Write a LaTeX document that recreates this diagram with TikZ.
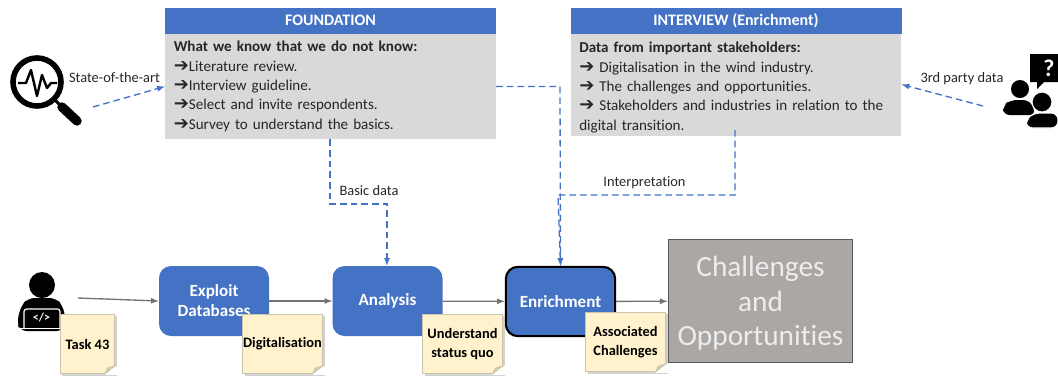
\documentclass[tikz,border=0pt]{standalone}
\usepackage{fontspec}
\setmainfont[Ligatures=NoCommon]{Carlito}
\newfontfamily\iconfont{DejaVu Sans}
\usetikzlibrary{positioning, shapes, arrows, shadows}
\definecolor{mainblue}{HTML}{4472C4}
\definecolor{panelgrey}{HTML}{D9D9D9}
\definecolor{notefill}{HTML}{FFF2CC}
\definecolor{noteline}{HTML}{C9C4AE}
\definecolor{notefold}{HTML}{D6CDAE}
\definecolor{resultgrey}{HTML}{ABA7A5}
\newcommand{\itemarrow}[1]{\makebox[#1][l]{\iconfont\bfseries\fontsize{13.5}{10}\selectfont ➔}}
\tikzset{
  header/.style={fill=mainblue, text=white, inner sep=0pt, minimum height=19.5pt, font=\fontsize{12}{13}\selectfont\bfseries},
  panel/.style={fill=panelgrey, text=black!85, inner xsep=6.5pt, inner ysep=0pt, align=left, text width=235pt, font=\fontsize{11.3}{14.5}\selectfont},
  process/.style={rounded corners=9pt, fill=mainblue, text=white, minimum width=82.5pt, minimum height=52.5pt, inner sep=0pt, align=center, font=\fontsize{12.8}{15}\selectfont\bfseries},
  sticky/.style={fill=notefill, draw=noteline, line width=.8pt, minimum width=60pt, minimum height=44.5pt, inner sep=0pt, align=center, drop shadow={shadow xshift=1.5pt, shadow yshift=-1.5pt, fill=black!35}, font=\fontsize{10.8}{14}\selectfont\bfseries},
  label/.style={inner sep=0pt, text=black!85, font=\fontsize{10.8}{12}\selectfont},
  dataflow/.style={draw=mainblue, line width=1pt, dash pattern=on 5pt off 3pt, -latex},
  flow/.style={draw=black!55, line width=1pt, -latex}
}
\begin{document}
\begin{tikzpicture}[x=.75pt,y=-.75pt]
  \useasboundingbox (0,0) rectangle (1058,380);
  % panels
  \node[header, minimum width=248.25pt] (foundhead) at (330.5,20.5) {FOUNDATION};
  \node[panel, minimum height=79pt] (foundbody) at (330.5,86.5) {\textbf{What we know that we do not know:}\\
    \itemarrow{11.3pt}Literature review.\\
    \itemarrow{11.3pt}Interview guideline.\\
    \itemarrow{11.3pt}Select and invite respondents.\\
    \itemarrow{11.3pt}Survey to understand the basics.};
  \node[header, minimum width=248.25pt] (inthead) at (736,20.5) {INTERVIEW (Enrichment)};
  \node[panel, minimum height=76.5pt] (intbody) at (736,84.5) {\rule{0pt}{12.5pt}\textbf{Data from important stakeholders:}\\
    \itemarrow{15pt}Digitalisation in the wind industry.\\
    \itemarrow{15pt}The challenges and opportunities.\\
    \itemarrow{15pt}Stakeholders and industries in relation to the\\
    digital transition.};

  % process row
  \node[process] (exploit) at (214,301) {Exploit\\Databases};
  \node[process] (analysis) at (387.5,301) {Analysis};
  \node[process, draw=black, line width=1.6pt, minimum width=82pt, minimum height=52pt] (enrichment) at (560.5,301.5) {Enrichment};
  \node[fill=resultgrey, draw=black!65, line width=.8pt, minimum width=138.5pt, minimum height=92.5pt, inner sep=0pt, align=center, text=white!93!black, font=\fontsize{22}{26}\selectfont] (challenges) at (760.5,301) {\rule{0pt}{19pt}Challenges\\and\\Opportunities};

  % free ends
  \coordinate (coder) at (78,298);
  \coordinate (lens) at (93,107);
  \coordinate (crowd) at (983,106);
  \coordinate (basicbend) at (330,204);
  \coordinate (basictop) at (387,204);
  \coordinate (foundbend) at (560,86.5);
  \coordinate (intstart) at (735,130);
  \coordinate (intbend) at (735,195);
  \coordinate (intcorner) at (558,195);

  \draw[flow] (coder) -- (exploit.west);
  \draw[flow] (exploit) -- (analysis);
  \draw[flow] (analysis) -- (enrichment);
  \draw[flow] (enrichment) -- (challenges);
  \draw[dataflow] (lens) -- (foundbody.west);
  \draw[dataflow] (crowd) -- (intbody.east);
  \draw[dataflow] (foundbody.south -| basicbend) -- (basicbend) -- (basictop) -- (analysis.north -| basictop);
  \draw[dataflow] (foundbody.east) -- (foundbend) -- (enrichment.north);
  \draw[dataflow] (intstart) -- (intbend) -- (intcorner) -- (enrichment.north);

  \node[label] (statelabel) at (114.5,78) {State-of-the-art};
  \node[label] (thirdlabel) at (962,79) {3rd party data};
  \node[label] (basiclabel) at (369,191) {Basic data};
  \node[label] (interplabel) at (644.5,183) {Interpretation};

  % magnifier
  \draw[line width=4.2pt] (37,82) circle (24);
  \draw[line width=2.2pt] (55,100) -- (62,107);
  \draw[line width=7pt, line cap=round] (62,107) -- (77,121);
  \draw[line width=1.8pt, line join=round] (18,83) -- (26,83) -- (31,70) -- (37,96) -- (42,75) -- (47,88) -- (51,83) -- (57,83);

  % coder
  \fill (42,285) circle (13);
  \fill[rounded corners=5pt] (20,331) -- (17,322) -- (21,306) -- (28,298) -- (56,298) -- (63,306) -- (66,322) -- (63,331) -- cycle;
  \draw[white, line width=.9pt, rounded corners=2pt] (24,329) -- (24,309) -- (60,309) -- (60,329);
  \fill[white] (19,328) rectangle (64,329);
  \node[text=white, inner sep=0pt, font=\fontsize{9}{9}\selectfont\bfseries] (codetag) at (41.5,318) {</>};

  % respondents
  \fill (1020,89) circle (9);
  \fill[rounded corners=5pt] (1003,115) -- (1003,106) -- (1010,100) -- (1030,100) -- (1036,115) -- cycle;
  \fill[draw=white, line width=.8pt] (1042,102) circle (10);
  \fill[draw=white, line width=.8pt, rounded corners=5pt] (1026,128) -- (1026,120) -- (1033,113) -- (1058,113) -- (1058,128) -- cycle;
  \fill (1030,54) -- (1058,54) -- (1058,82) -- (1044,82) -- (1037,89) -- (1037,82) -- (1030,82) -- cycle;
  \node[text=white, inner sep=0pt, font=\fontsize{18}{18}\selectfont\bfseries] (askmark) at (1049,68) {?};

  % notes
  \node[sticky, minimum width=41pt] (task) at (87.5,344) {Task 43};
  \node[sticky] (digital) at (282.5,344) {Digitalisation};
  \node[sticky] (statusquo) at (462.5,344) {Understand\\status quo};
  \node[sticky] (associated) at (625.5,342) {Associated\\Challenges};
  \foreach \n in {task,digital,statusquo,associated} {
    \fill[white] ([xshift=-9pt,yshift=-.5pt]\n.south east) -- ([xshift=2pt,yshift=-.5pt]\n.south east) -- ([xshift=2pt,yshift=7pt]\n.south east) -- cycle;
    \fill[notefold, draw=noteline, line width=.5pt] ([xshift=-8pt]\n.south east) -- ([yshift=6.5pt]\n.south east) -- ([xshift=-6pt,yshift=4.5pt]\n.south east) -- cycle;
  }
\end{tikzpicture}
\end{document}
